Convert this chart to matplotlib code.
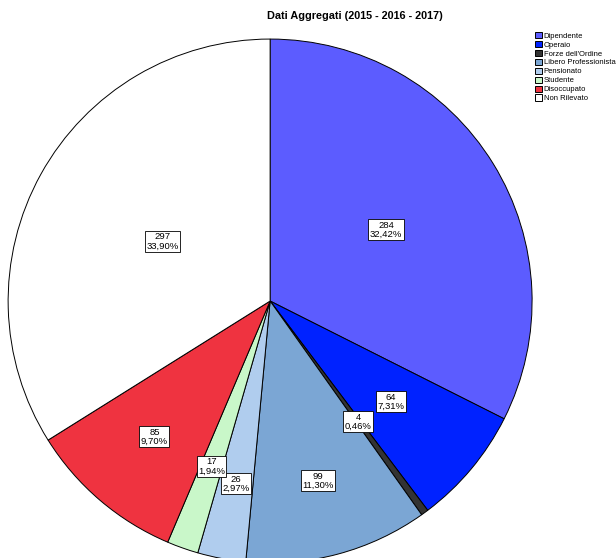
import matplotlib.pyplot as plt
import numpy as np

plt.rcParams['font.family'] = ['Liberation Sans', 'DejaVu Sans']

categories = ['Dipendente', 'Operaio', "Forze dell'Ordine", 'Libero Professionista',
              'Pensionato', 'Studente', 'Disoccupato', 'Non Rilevato']
counts = [284, 64, 4, 99, 26, 17, 85, 297]
colors = ['#5c5cff', '#0022ff', '#333333', '#7ba6d4',
          '#b0cdee', '#c9f7c9', '#ef3340', '#ffffff']
# radial position of each value box (fraction of radius)
label_r = [0.52, 0.60, 0.57, 0.71, 0.71, 0.67, 0.68, 0.47]

fig = plt.figure(figsize=(6.16, 5.58), dpi=100)
ax = fig.add_axes([0.013, -0.009, 0.851, 0.939])

wedges, _ = ax.pie(counts, colors=colors, startangle=90, counterclock=False,
                   radius=1, wedgeprops=dict(edgecolor='black', linewidth=0.7))
ax.set_xlim(-1, 1)
ax.set_ylim(-1, 1)
ax.set_aspect('equal')
ax.axis('off')

total = sum(counts)
for w, c, r in zip(wedges, counts, label_r):
    mid = np.deg2rad((w.theta1 + w.theta2) / 2)
    pct = f'{c / total * 100:.2f}%'.replace('.', ',')
    ax.text(r * np.cos(mid), r * np.sin(mid), f'{c}\n{pct}', ha='center', va='center',
            fontsize=6.8, linespacing=1.0,
            bbox=dict(boxstyle='square,pad=0.15', facecolor='white', edgecolor='black', linewidth=0.6))

fig.text(355 / 616, 1 - 16 / 558, 'Dati Aggregati (2015 - 2016 - 2017)', ha='center', va='center',
         fontsize=7.8, fontweight='bold')

fig.legend(wedges, categories, loc='upper left', bbox_to_anchor=(531 / 616, 1 - 28 / 558),
           frameon=False, fontsize=5.5, handlelength=0.9, handleheight=0.9,
           handletextpad=0.25, labelspacing=0.15, borderpad=0)

fig.savefig('out.png', dpi=100)
